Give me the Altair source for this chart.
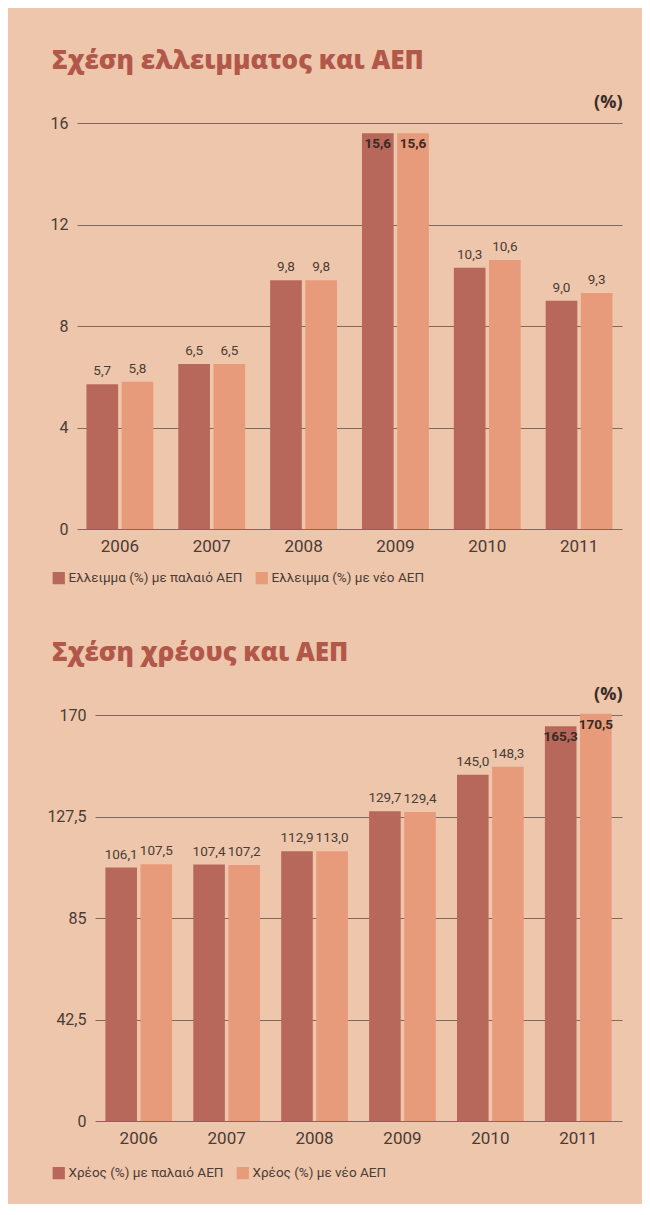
import altair as alt
import pandas as pd

years = ["2006", "2007", "2008", "2009", "2010", "2011"]
deficit_old = [5.7, 6.5, 9.8, 15.6, 10.3, 9.0]
deficit_new = [5.8, 6.5, 9.8, 15.6, 10.6, 9.3]
debt_old = [106.1, 107.4, 112.9, 129.7, 145.0, 165.3]
debt_new = [107.5, 107.2, 113.0, 129.4, 148.3, 170.5]

deficit_series = ["Ελλειμμα (%) με παλαιό ΑΕΠ", "Ελλειμμα (%) με νέο ΑΕΠ"]
debt_series = ["Χρέος (%) με παλαιό ΑΕΠ", "Χρέος (%) με νέο ΑΕΠ"]
deficit_ticks = [0, 4, 8, 12, 16]
debt_ticks = [0, 42.5, 85, 127.5, 170]

title_top = "Σχέση ελλειμματος και ΑΕΠ"
title_bottom = "Σχέση χρέους και ΑΕΠ"
unit_label = "(%)"

BG = "#eec6ab"
DARK = "#b8685a"
LIGHT = "#e89b7b"
TITLE_COLOR = "#b2584a"
TEXT = "#4a3c36"
GRID = "#6a5a50"
FONT = "Roboto"
WIDTH = 545
EXTENT = 69


def table(series, old, new, top):
    rows = []
    for i, y in enumerate(years):
        for s, v in ((series[0], old[i]), (series[1], new[i])):
            rows.append({
                "year": y,
                "series": s,
                "value": v,
                "label": f"{v:.1f}".replace(".", ","),
                "inside": v > 0.95 * top,
            })
    return pd.DataFrame(rows)


def panel(title, series, old, new, ticks, start, pin, pout, legend_y):
    top = ticks[-1]
    df = table(series, old, new, top)
    base = alt.Chart(df).encode(
        x=alt.X("year:N", title=None,
                scale=alt.Scale(range=[start, WIDTH], paddingInner=pin,
                                paddingOuter=pout),
                axis=alt.Axis(labelAngle=0, ticks=False, domain=False,
                              labelPadding=9, labelFontSize=17,
                              labelFont=FONT, labelColor=TEXT)),
        xOffset=alt.XOffset("series:N", scale=alt.Scale(domain=series, paddingInner=0.1)),
        y=alt.Y("value:Q", title=unit_label,
                scale=alt.Scale(domain=[0, top], nice=False, zero=True),
                axis=alt.Axis(values=ticks, grid=True, gridColor=GRID,
                              gridOpacity=0.85, gridWidth=1,
                              domain=False, ticks=False, offset=-start,
                              labelExpr="replace(toString(datum.value), '.', ',')",
                              labelFont=FONT, labelFontSize=16, labelColor=TEXT,
                              labelPadding=9, minExtent=EXTENT, maxExtent=EXTENT,
                              titleAngle=0, titleAlign="right",
                              titleX=WIDTH - start, titleY=-12,
                              titleBaseline="bottom",
                              titleFont="Open Sans", titleFontSize=18,
                              titleFontWeight="bold", titleColor="#3a2c26")),
    )
    bars = base.mark_bar(clip=False).encode(
        color=alt.Color("series:N",
                        scale=alt.Scale(domain=series, range=[DARK, LIGHT]),
                        legend=alt.Legend(title=None, orient="none",
                                          legendX=-25, legendY=legend_y,
                                          direction="horizontal",
                                          symbolType="square", symbolSize=150,
                                          symbolStrokeWidth=0, labelLimit=0,
                                          labelFont=FONT, labelFontSize=13.5,
                                          labelColor=TEXT, columnPadding=12,
                                          symbolOffset=0, labelOffset=3)),
    )
    out_text = base.transform_filter("!datum.inside").mark_text(
        baseline="bottom", dy=-6, font=FONT, fontSize=13.5, color=TEXT
    ).encode(text="label:N")
    in_text = base.transform_filter("datum.inside").mark_text(
        baseline="top", dy=4, font=FONT, fontSize=13.5, fontWeight="bold",
        color="#3a2a24"
    ).encode(text="label:N")
    return alt.layer(bars, out_text, in_text).properties(
        width=WIDTH, height=406,
        title=alt.TitleParams(title, anchor="start", frame="group",
                              dx=-(EXTENT + 8 - 52), fontSize=26,
                              font="Open Sans", fontWeight=800,
                              color=TITLE_COLOR, offset=19),
    )


top_chart = panel(title_top, deficit_series, deficit_old, deficit_new,
                  deficit_ticks, 0, 0.272, 0.103, 448)
bottom_chart = panel(title_bottom, debt_series, debt_old, debt_new,
                     debt_ticks, 18, 0.241, 0.118, 451)

chart = alt.vconcat(top_chart, bottom_chart, spacing=55).resolve_scale(
    color="independent", xOffset="independent", x="independent",
    y="independent").resolve_legend(color="independent").properties(
    background=BG,
    padding={"left": 0, "top": 40, "right": 20, "bottom": 24},
).configure_view(stroke=None)

chart.save("out.html", embed_options={"renderer": "svg", "actions": False})
